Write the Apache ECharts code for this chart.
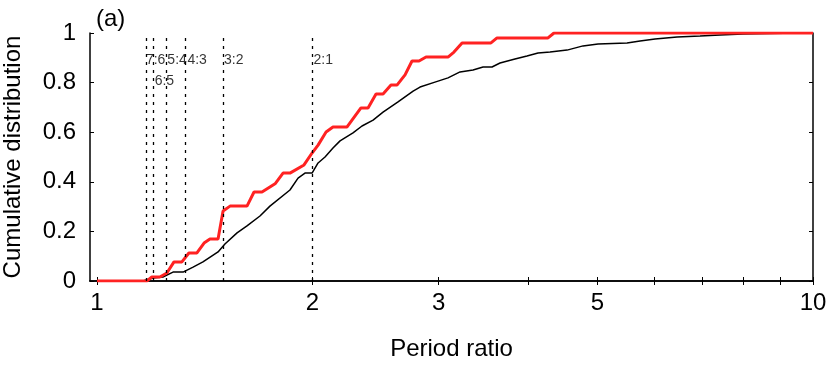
<!DOCTYPE html>
<html>
<head>
<meta charset="utf-8">
<script src="https://cdn.jsdelivr.net/npm/echarts@6/dist/echarts.min.js"></script>
<style>
  html, body { margin: 0; padding: 0; background: #fff; }
  #main { width: 831px; height: 372px; }
</style>
</head>
<body>
<div id="main"></div>
<script>
// red: cumulative distribution (thick)
const redRatio = [1.0, 1.174, 1.193, 1.224, 1.252, 1.281, 1.314, 1.344, 1.379, 1.411, 1.438, 1.476, 1.500, 1.534, 1.620, 1.657, 1.700, 1.773, 1.819, 1.860, 1.946, 1.997, 2.036, 2.089, 2.136, 2.235, 2.337, 2.391, 2.453, 2.509, 2.574, 2.624, 2.693, 2.754, 2.817, 2.881, 3.092, 3.152, 3.235, 3.550, 3.620, 4.265, 4.348, 10];
const redCdf = [0, 0, 0.016, 0.016, 0.032, 0.077, 0.077, 0.113, 0.113, 0.153, 0.169, 0.169, 0.282, 0.302, 0.302, 0.359, 0.359, 0.392, 0.435, 0.435, 0.468, 0.516, 0.548, 0.601, 0.621, 0.621, 0.698, 0.698, 0.754, 0.754, 0.790, 0.790, 0.831, 0.887, 0.887, 0.903, 0.903, 0.923, 0.960, 0.960, 0.980, 0.980, 1, 1];

// black: cumulative distribution (thin)
const blackRatio = [1.0, 1.159, 1.197, 1.236, 1.277, 1.319, 1.362, 1.406, 1.476, 1.509, 1.569, 1.620, 1.689, 1.744, 1.860, 1.909, 1.952, 1.997, 2.036, 2.082, 2.136, 2.185, 2.278, 2.345, 2.430, 2.509, 2.633, 2.764, 2.826, 2.965, 3.092, 3.214, 3.351, 3.461, 3.562, 3.655, 3.835, 3.986, 4.130, 4.293, 4.534, 4.773, 5.009, 5.499, 5.734, 6.017, 6.459, 6.954, 7.416, 7.985, 8.710, 9.499, 10];
const blackCdf = [0, 0, 0.012, 0.016, 0.036, 0.036, 0.056, 0.077, 0.117, 0.149, 0.194, 0.222, 0.262, 0.302, 0.367, 0.415, 0.435, 0.435, 0.476, 0.500, 0.536, 0.565, 0.597, 0.625, 0.649, 0.681, 0.722, 0.766, 0.782, 0.802, 0.819, 0.843, 0.851, 0.863, 0.863, 0.879, 0.895, 0.907, 0.919, 0.923, 0.931, 0.948, 0.956, 0.960, 0.968, 0.976, 0.984, 0.988, 0.992, 0.996, 0.998, 1, 1];

// resonance markers
const resValues = [7 / 6, 6 / 5, 5 / 4, 4 / 3, 3 / 2, 2];
const resLabels = ['7:6', '6:5', '5:4', '4:3', '3:2', '2:1'];
const resLabelY = [0.891, 0.806, 0.891, 0.891, 0.891, 0.891];

const xTickValues = [1, 2, 3, 4, 5, 6, 7, 8, 9, 10];
const xLabelValues = [1, 2, 3, 5, 10];

const FONT = 'Liberation Sans';

let chart = echarts.init(document.getElementById('main'));

const xBase = {
  type: 'log',
  logBase: 10,
  min: 0.9778,
  max: 10,
  splitLine: { show: false },
  axisLine: { show: true, lineStyle: { color: '#000', width: 1.5 } },
  axisTick: { show: true, inside: true, length: 4, customValues: xTickValues, lineStyle: { color: '#000', width: 1 } },
  minorTick: { show: false }
};

let option = {
  animation: false,
  backgroundColor: '#fff',
  grid: { left: 90, right: 18, top: 33, bottom: 91, outerBoundsMode: 'none', containLabel: false },
  title: {
    text: '(a)',
    left: 91,
    top: 2,
    textStyle: { fontFamily: FONT, fontSize: 24, fontWeight: 'normal', color: '#000' }
  },
  xAxis: [
    Object.assign({}, xBase, {
      position: 'bottom',
      name: 'Period ratio',
      nameLocation: 'middle',
      nameGap: 56,
      nameTextStyle: { fontFamily: FONT, fontSize: 24, color: '#000' },
      axisLabel: {
        show: true,
        customValues: xLabelValues,
        margin: 10,
        fontFamily: FONT,
        fontSize: 24,
        color: '#000',
        formatter: v => String(v)
      }
    }),
    Object.assign({}, xBase, {
      position: 'top',
      axisLabel: { show: false }
    })
  ],
  yAxis: [
    {
      type: 'value',
      min: 0,
      max: 1,
      interval: 0.2,
      position: 'left',
      name: 'Cumulative distribution',
      nameLocation: 'middle',
      nameGap: 65,
      nameTextStyle: { fontFamily: FONT, fontSize: 24, color: '#000' },
      splitLine: { show: false },
      axisLine: { show: true, lineStyle: { color: '#000', width: 1.5 } },
      axisTick: { show: true, inside: true, length: 4, lineStyle: { color: '#000', width: 1 } },
      axisLabel: { margin: 14, fontFamily: FONT, fontSize: 24, color: '#000' }
    },
    {
      type: 'value',
      min: 0,
      max: 1,
      interval: 0.2,
      position: 'right',
      splitLine: { show: false },
      axisLine: { show: true, lineStyle: { color: '#000', width: 1.5 } },
      axisTick: { show: true, inside: true, length: 4, lineStyle: { color: '#000', width: 1 } },
      axisLabel: { show: false }
    }
  ],
  series: [
    {
      name: 'resonances',
      type: 'scatter',
      symbolSize: 0,
      silent: true,
      data: resValues.map((v, i) => ({ value: [v, resLabelY[i]], name: resLabels[i] })),
      label: {
        show: true,
        position: 'right',
        distance: 1,
        formatter: p => p.name,
        fontFamily: FONT,
        fontSize: 14,
        color: '#000'
      },
      markLine: {
        silent: true,
        symbol: ['none', 'none'],
        label: { show: false },
        lineStyle: { color: '#000', width: 1.3, type: [3, 5] },
        data: resValues.map(v => ({ xAxis: v }))
      },
      z: 1
    },
    {
      name: 'black',
      type: 'line',
      showSymbol: false,
      data: blackRatio.map((v, i) => [v, blackCdf[i]]),
      lineStyle: { color: '#000', width: 1.5 },
      itemStyle: { color: '#000' },
      z: 3
    },
    {
      name: 'red',
      type: 'line',
      showSymbol: false,
      data: redRatio.map((v, i) => [v, redCdf[i]]),
      lineStyle: { color: '#ff2222', width: 3 },
      itemStyle: { color: '#ff2222' },
      z: 4
    }
  ]
};

chart.setOption(option);
</script>
</body>
</html>
